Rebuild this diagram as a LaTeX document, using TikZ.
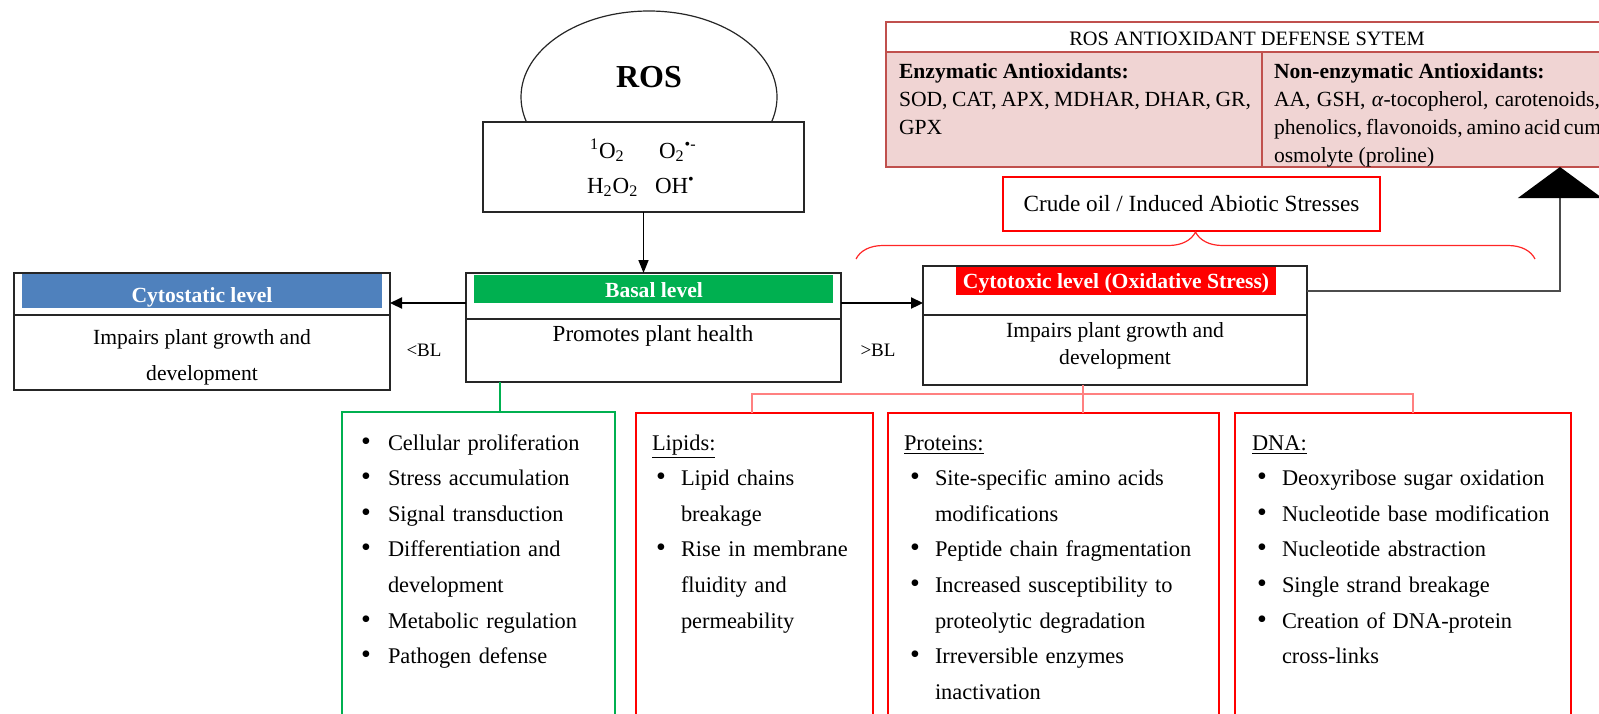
\documentclass[tikz,border=0pt]{standalone}
\usepackage{fontspec}
\setmainfont{Liberation Serif}
\usetikzlibrary{shapes.geometric,arrows.meta,decorations.pathreplacing,calc}
\definecolor{cblue}{HTML}{4F81BD}
\definecolor{cgreen}{HTML}{00B050}
\definecolor{adred}{HTML}{C0504D}
\definecolor{adfill}{HTML}{F0D4D3}
\definecolor{linered}{HTML}{FF8080}
\newcommand{\mybul}{{\fontsize{14}{14}\selectfont\textbullet}}
\newcommand{\myb}{\makebox[12.5pt][l]{\mybul}}
\newcommand{\myc}{\hspace*{12.5pt}}
\begin{document}
\begin{tikzpicture}[x=0.5pt,y=-0.5pt,
  every node/.style={inner sep=0pt, outer sep=0pt},
  txt/.style={anchor=base, font=\fontsize{10.8}{13}\selectfont},
  txtw/.style={anchor=base west, font=\fontsize{10.8}{13}\selectfont},
  bandtxt/.style={anchor=base, font=\bfseries\fontsize{10.8}{13}\selectfont, text=white},
  box/.style={draw=black!85, line width=0.7pt, fill=white, anchor=north west},
  boxline/.style={draw=black!85, line width=0.7pt},
  band/.style={anchor=north west},
  redbox/.style={draw=red, line width=0.8pt, anchor=north west, minimum height=164pt},
  listtxt/.style={anchor=north west, align=left, text width=175pt, font=\fontsize{11.2}{17.8}\selectfont},
  arr/.style={draw=black, line width=0.8pt, -{Triangle[length=6.5pt,width=5pt]}},
  arrthick/.style={draw=black, line width=1.1pt, -{Triangle[length=6pt,width=5.5pt]}},
  redconn/.style={draw=linered, line width=0.9pt},
  adline/.style={draw=adred, line width=1.4pt},
]
\useasboundingbox (0,0) rectangle (1599,713);
\clip (0,0) rectangle (1599,713);

% ROS
\node[ellipse, draw=black!85, line width=0.6pt, fill=white, minimum width=128pt, minimum height=86pt] (rosell) at (649,97) {};
\node[anchor=base, font=\bfseries\fontsize{16}{19}\selectfont] (rostxt) at (649,87) {ROS};
\node[box, minimum width=160.5pt, minimum height=45pt] (rosbox) at (483,122) {};
\node[txtw, font=\fontsize{11.5}{13}\selectfont] (r1) at (590,158) {\textsuperscript{1}O\textsubscript{2}};
\node[txtw, font=\fontsize{11.5}{13}\selectfont] (r2) at (659,158) {O\textsubscript{2}\textsuperscript{\textbullet-}};
\node[txtw, font=\fontsize{11.5}{13}\selectfont] (r3) at (587,193) {H\textsubscript{2}O\textsubscript{2}};
\node[txtw, font=\fontsize{11.5}{13}\selectfont] (r4) at (655,193) {OH\textsuperscript{\textbullet}};

% Antioxidant defense system
\node[anchor=north west, adline, fill=adfill, minimum width=361pt, minimum height=72.5pt] (antiox) at (886,22) {};
\fill[white] ([xshift=0.7pt,yshift=-0.7pt]antiox.north west) rectangle ([xshift=-0.7pt,yshift=-15pt]antiox.north east);
\draw[adline] ([yshift=-15pt]antiox.north west) -- ([yshift=-15pt]antiox.north east);
\draw[adline] ([xshift=188pt,yshift=-15pt]antiox.north west) -- ([xshift=188pt]antiox.south west);
\node[txt, font=\fontsize{10.2}{12}\selectfont] (adtitle) at (1247,45) {ROS ANTIOXIDANT DEFENSE SYTEM};
\node[txtw] (enzh) at (899,78) {\textbf{Enzymatic Antioxidants:}};
\node[txtw] (enz1) at (899,106) {\makebox[176pt][s]{SOD, CAT, APX, MDHAR, DHAR, GR,}};
\node[txtw] (enz2) at (899,134) {GPX};
\node[txtw] (nenh) at (1274,78) {\textbf{Non-enzymatic Antioxidants:}};
\node[txtw] (nen1) at (1274,106) {\makebox[163pt][s]{AA, GSH, \textit{α}-tocopherol, carotenoids,}};
\node[txtw] (nen2) at (1274,134) {\makebox[163pt][s]{phenolics, flavonoids, amino acid cum}};
\node[txtw] (nen3) at (1274,162) {osmolyte (proline)};

% Crude oil box and brace
\node[draw=red, line width=1.2pt, fill=white, minimum width=188.5pt, minimum height=27pt, font=\fontsize{11.6}{13}\selectfont] (crude) at (1191.5,204) {Crude oil / Induced Abiotic Stresses};
\coordinate (brL) at (856,259);
\coordinate (brR) at (1535,259);
\draw[red!85, line width=0.6pt, decorate, decoration={brace, amplitude=13.5pt}] (brL) -- (brR);

% Cytostatic
\node[box, minimum width=188pt, minimum height=58.5pt] (cstat) at (14,273) {};
\node[band, fill=cblue, minimum width=180pt, minimum height=17pt] (cstatband) at (22,274) {};
\node[bandtxt] (cstatlbl) at (202,302) {Cytostatic level};
\draw[boxline] ([yshift=-21pt]cstat.north west) -- ([yshift=-21pt]cstat.north east);
\node[txt] (cstat1) at (202,344) {Impairs plant growth and};
\node[txt] (cstat2) at (202,380) {development};
\node[txt, font=\fontsize{9.5}{11}\selectfont] (ltbl) at (424,356) {<BL};

% Basal
\node[box, minimum width=187.5pt, minimum height=54.5pt] (basal) at (466,273) {};
\node[band, fill=cgreen, minimum width=179.5pt, minimum height=14pt] (basalband) at (474,275) {};
\node[bandtxt] (basallbl) at (654,297) {Basal level};
\draw[boxline] ([yshift=-23pt]basal.north west) -- ([yshift=-23pt]basal.north east);
\node[txt, font=\fontsize{11.5}{13}\selectfont] (basal1) at (653,341) {Promotes plant health};
\node[txt, font=\fontsize{9.5}{11}\selectfont] (gtbl) at (878,356) {>BL};

% Cytotoxic
\node[box, minimum width=192pt, minimum height=59.5pt] (ctox) at (923,266) {};
\node[band, fill=red, minimum width=160pt, minimum height=14pt] (ctoxband) at (956,267) {};
\node[bandtxt] (ctoxlbl) at (1116,288) {Cytotoxic level (Oxidative Stress)};
\draw[boxline] ([yshift=-24.5pt]ctox.north west) -- ([yshift=-24.5pt]ctox.north east);
\node[txt] (ctox1) at (1115,337) {Impairs plant growth and};
\node[txt] (ctox2) at (1115,364) {development};

% Bottom boxes
\node[anchor=north west, draw=cgreen, line width=1.1pt, minimum width=136.5pt, minimum height=164pt] (gbox) at (342,412) {};
\node[redbox, minimum width=118.5pt] (lip) at (636,413) {};
\node[redbox, minimum width=165.5pt] (prot) at (888,413) {};
\node[redbox, minimum width=168pt] (dna) at (1235,413) {};

\node[listtxt] (glist) at (361,434) {\rule{0pt}{8pt}\makebox[13.5pt][l]{\mybul}Cellular proliferation\\
\makebox[13.5pt][l]{\mybul}Stress accumulation\\
\makebox[13.5pt][l]{\mybul}Signal transduction\\
\makebox[13.5pt][l]{\mybul}Differentiation and\\
\hspace*{13.5pt}development\\
\makebox[13.5pt][l]{\mybul}Metabolic regulation\\
\makebox[13.5pt][l]{\mybul}Pathogen defense};

\node[listtxt] (liplist) at (652,434) {\rule{0pt}{8pt}\underline{Lipids:}\\
\hspace*{2pt}\myb Lipid chains\\
\hspace*{2pt}\myc breakage\\
\hspace*{2pt}\myb Rise in membrane\\
\hspace*{2pt}\myc fluidity and\\
\hspace*{2pt}\myc permeability};

\node[listtxt] (protlist) at (904,434) {\rule{0pt}{8pt}\underline{Proteins:}\\
\hspace*{3pt}\myb Site-specific amino acids\\
\hspace*{3pt}\myc modifications\\
\hspace*{3pt}\myb Peptide chain fragmentation\\
\hspace*{3pt}\myb Increased susceptibility to\\
\hspace*{3pt}\myc proteolytic degradation\\
\hspace*{3pt}\myb Irreversible enzymes\\
\hspace*{3pt}\myc inactivation};

\node[listtxt] (dnalist) at (1252,434) {\rule{0pt}{8pt}\underline{DNA:}\\
\hspace*{2.5pt}\myb Deoxyribose sugar oxidation\\
\hspace*{2.5pt}\myb Nucleotide base modification\\
\hspace*{2.5pt}\myb Nucleotide abstraction\\
\hspace*{2.5pt}\myb Single strand breakage\\
\hspace*{2.5pt}\myb Creation of DNA-protein\\
\hspace*{2.5pt}\myc cross-links};

% Connectors
\draw[arr] (rosbox.south) -- (rosbox.south |- basal.north);
\coordinate (bl) at ([yshift=-15pt]basal.north west);
\coordinate (br) at ([yshift=-15pt]basal.north east);
\draw[arrthick] (bl) -- (bl -| cstat.east);
\draw[arrthick] (br) -- (br -| ctox.west);

\coordinate (gx) at (500,0);
\draw[draw=cgreen, line width=1.1pt] (gx |- basal.south) -- (gx |- gbox.north);

\coordinate (px) at (1083,0);
\coordinate (lx) at (752,0);
\coordinate (dx) at (1413,0);
\coordinate (rh) at (0,394);
\draw[redconn] (px |- ctox.south) -- (px |- prot.north);
\draw[redconn] (lx |- lip.north) -- (lx |- rh) -- (dx |- rh) -- (dx |- dna.north);

\coordinate (adin) at (1560,0);
\coordinate (ctoxout) at ([yshift=-12.5pt]ctox.north east);
\draw[draw=black!70, line width=0.7pt, -{Triangle[length=15.5pt,width=42pt,color=black]}] (ctoxout) -| (adin |- antiox.south);
\end{tikzpicture}
\end{document}
